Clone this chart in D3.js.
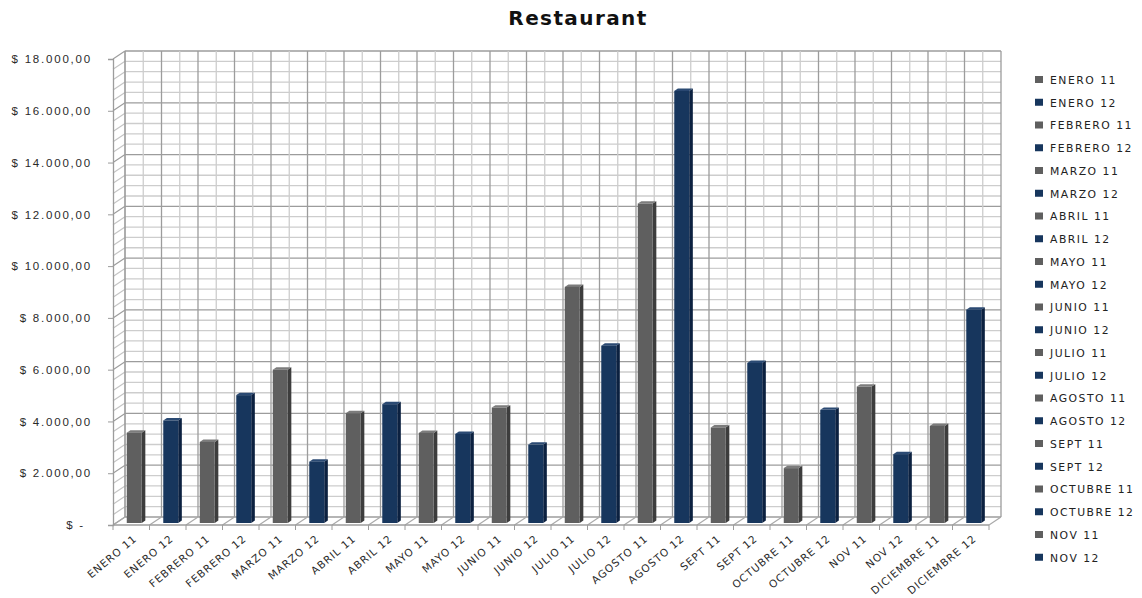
<!DOCTYPE html>
<html>
<head>
<meta charset="utf-8">
<script src="https://cdn.jsdelivr.net/npm/d3@7"></script>
<style>
  body { margin: 0; background: #fff; }
  svg { display: block; font-family: "DejaVu Sans", Verdana, sans-serif; }
</style>
</head>
<body>
<svg id="chart" width="1142" height="598"></svg>
<script>
// data
var categories = ["ENERO 11", "ENERO 12", "FEBRERO 11", "FEBRERO 12", "MARZO 11", "MARZO 12",
  "ABRIL 11", "ABRIL 12", "MAYO 11", "MAYO 12", "JUNIO 11", "JUNIO 12",
  "JULIO 11", "JULIO 12", "AGOSTO 11", "AGOSTO 12", "SEPT 11", "SEPT 12",
  "OCTUBRE 11", "OCTUBRE 12", "NOV 11", "NOV 12", "DICIEMBRE 11", "DICIEMBRE 12"];
var values = [3490, 3960, 3130, 4940, 5920, 2370,
  4240, 4590, 3480, 3440, 4460, 3030,
  9120, 6850, 12340, 16690, 3690, 6180,
  2120, 4370, 5270, 2660, 3750, 8240];
var yTicks = [0, 2000, 4000, 6000, 8000, 10000, 12000, 14000, 16000, 18000];
var years = ["11", "12"];
var legendShown = 22; // the legend in the original is cut after NOV 12

var DX = 12, DY = -8;      // depth offset of the back wall
var T0 = 0.25, TD = 0.3;   // bar depth position and thickness
var BAR = 0.41;            // bar width as share of band

var svg = d3.select("#chart");

var x = d3.scaleBand().domain(categories).range([113, 989]);
var y = d3.scaleLinear().domain([0, 18000]).range([525, 59]);
var bw = x.bandwidth();

var yearOf = function(d) { return d.slice(-2); };
var front = d3.scaleOrdinal().domain(years).range(["#5f5f5f", "#17365d"]);
var side = d3.scaleOrdinal().domain(years).range(["#3d3d3d", "#0c2140"]);
var top_ = d3.scaleOrdinal().domain(years).range(["#7c7c7c", "#2b4a73"]);

var locale = d3.formatLocale({decimal: ",", thousands: ".", grouping: [3], currency: ["$ ", ""]});
var money = locale.format("$,.2f");

// title
svg.append("text")
  .attr("x", 578).attr("y", 25)
  .attr("text-anchor", "middle")
  .style("font-size", "20px").style("font-weight", "bold")
  .style("letter-spacing", "1.4px")
  .attr("fill", "#111")
  .text("Restaurant");

// back wall
var grid = svg.append("g");
var minor = d3.range(0, 18001, 400);
var x0 = 113, x1 = 989, yTop = y(18000), yBot = y(0);

grid.append("rect")
  .attr("x", x0 + DX).attr("y", yTop + DY)
  .attr("width", x1 - x0).attr("height", yBot - yTop)
  .attr("fill", "#fff");

// horizontal grid lines on back wall + side wall
grid.selectAll("line.h")
  .data(minor)
  .enter().append("line")
  .attr("x1", x0 + DX).attr("x2", x1 + DX)
  .attr("y1", function(d) { return y(d) + DY; })
  .attr("y2", function(d) { return y(d) + DY; })
  .attr("stroke", function(d) { return d % 2000 === 0 ? "#9c9c9c" : "#cdcdcd"; })
  .attr("stroke-width", 1.3);

grid.selectAll("line.s")
  .data(minor)
  .enter().append("line")
  .attr("x1", x0).attr("x2", x0 + DX)
  .attr("y1", function(d) { return y(d); })
  .attr("y2", function(d) { return y(d) + DY; })
  .attr("stroke", function(d) { return d % 2000 === 0 ? "#9c9c9c" : "#c4c4c4"; })
  .attr("stroke-width", 1.2);

// vertical grid lines (category edges and middles)
var halves = d3.range(0, categories.length * 2 + 1);
grid.selectAll("line.v")
  .data(halves)
  .enter().append("line")
  .attr("x1", function(i) { return x0 + i * bw / 2 + DX; })
  .attr("x2", function(i) { return x0 + i * bw / 2 + DX; })
  .attr("y1", yTop + DY).attr("y2", yBot + DY)
  .attr("stroke", function(i) { return i % 2 === 0 ? "#9c9c9c" : "#cdcdcd"; })
  .attr("stroke-width", 1.3);

// side wall verticals
grid.append("line").attr("x1", x0 + DX).attr("x2", x0 + DX)
  .attr("y1", yTop + DY).attr("y2", yBot + DY).attr("stroke", "#9c9c9c");

// floor
var edges = d3.range(0, categories.length + 1);
grid.selectAll("line.f")
  .data(edges)
  .enter().append("line")
  .attr("x1", function(i) { return x0 + i * bw; })
  .attr("x2", function(i) { return x0 + i * bw + DX; })
  .attr("y1", yBot).attr("y2", yBot + DY)
  .attr("stroke", "#a8a8a8").attr("stroke-width", 1.2);
grid.selectAll("line.t")
  .data(edges)
  .enter().append("line")
  .attr("x1", function(i) { return x0 + i * bw; })
  .attr("x2", function(i) { return x0 + i * bw; })
  .attr("y1", yBot).attr("y2", yBot + 5)
  .attr("stroke", "#9c9c9c");
grid.append("line").attr("x1", x0).attr("x2", x1)
  .attr("y1", yBot).attr("y2", yBot).attr("stroke", "#9c9c9c").attr("stroke-width", 1.3);

// bars
var bars = svg.append("g").selectAll("g.bar")
  .data(categories.map(function(c, i) { return {name: c, val: values[i]}; }))
  .enter().append("g").attr("class", "bar");

function geo(d) {
  var wF = bw * BAR;
  var bx = x(d.name) + (bw - wF) / 2 + DX * T0;
  return {bx: bx, wF: wF, t: y(d.val) + DY * T0, b: y(0) + DY * T0, dx: DX * TD, dy: DY * TD};
}

bars.append("path")
  .attr("fill", function(d) { return side(yearOf(d.name)); })
  .attr("d", function(d) {
    var g = geo(d);
    return "M" + (g.bx + g.wF) + "," + g.t + "L" + (g.bx + g.wF + g.dx) + "," + (g.t + g.dy) +
      "L" + (g.bx + g.wF + g.dx) + "," + (g.b + g.dy) + "L" + (g.bx + g.wF) + "," + g.b + "Z";
  });
bars.append("path")
  .attr("fill", function(d) { return top_(yearOf(d.name)); })
  .attr("d", function(d) {
    var g = geo(d);
    return "M" + g.bx + "," + g.t + "L" + (g.bx + g.dx) + "," + (g.t + g.dy) +
      "L" + (g.bx + g.wF + g.dx) + "," + (g.t + g.dy) + "L" + (g.bx + g.wF) + "," + g.t + "Z";
  });
bars.append("rect")
  .attr("fill", function(d) { return front(yearOf(d.name)); })
  .attr("x", function(d) { return geo(d).bx; })
  .attr("y", function(d) { return geo(d).t; })
  .attr("width", function(d) { return geo(d).wF; })
  .attr("height", function(d) { var g = geo(d); return g.b - g.t; });

// y axis
var yAxis = svg.append("g")
  .attr("transform", "translate(" + x0 + ",0)")
  .call(d3.axisLeft(y).tickValues(yTicks).tickSize(5).tickPadding(16)
    .tickFormat(function(d) { return d === 0 ? "$ -" : money(d); }));
yAxis.select(".domain").attr("stroke", "#9c9c9c").attr("stroke-width", 1.3);
yAxis.selectAll(".tick line").attr("stroke", "#9c9c9c");
yAxis.selectAll(".tick text")
  .attr("fill", "#2a2a2a")
  .style("font-size", "11.5px").style("letter-spacing", "1.8px")
  .attr("dx", function(d) { return d === 0 ? -7 : 0; });

// x labels
svg.append("g").selectAll("text")
  .data(categories)
  .enter().append("text")
  .attr("text-anchor", "end")
  .attr("transform", function(d) { return "translate(" + (x(d) + bw / 2 + 4) + ",537) rotate(-40)"; })
  .attr("dy", "0.35em")
  .attr("fill", "#2a2a2a")
  .style("font-size", "10.5px").style("letter-spacing", "0.9px")
  .text(function(d) { return d; });

// legend
var legend = svg.append("g").selectAll("g")
  .data(categories.slice(0, legendShown))
  .enter().append("g")
  .attr("transform", function(d, i) { return "translate(1035," + (80 + i * 22.75) + ")"; });
legend.append("rect")
  .attr("x", 0).attr("y", -4).attr("width", 8).attr("height", 7)
  .attr("fill", function(d) { return front(yearOf(d)); });
legend.append("text")
  .attr("x", 15).attr("dy", "0.35em")
  .attr("fill", "#222")
  .style("font-size", "10.8px").style("letter-spacing", "1.5px")
  .text(function(d) { return d; });
</script>
</body>
</html>
